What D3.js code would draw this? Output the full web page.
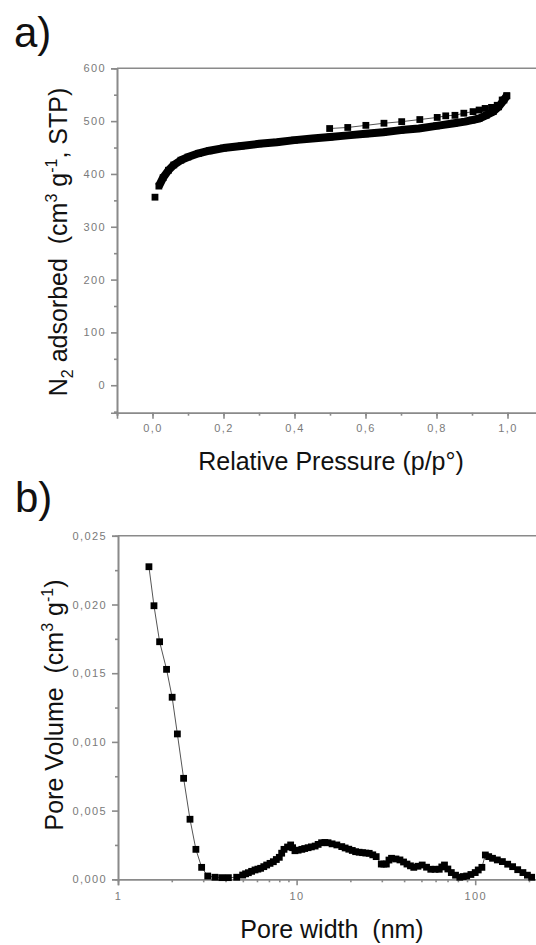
<!DOCTYPE html>
<html>
<head>
    <style>
        body {
            margin: 0;
            background: #fff;
            overflow: hidden;
            font-family: "Liberation Sans", Arial, sans-serif;
        }
        .axis path, .axis line {
            stroke: #8a8a8a;
            stroke-width: 1.6px;
        }
        .axis text {
            fill: #7a7a7a;
            font-size: 11px;
            letter-spacing: 1.4px;
            font-family: "Liberation Sans", Arial, sans-serif;
        }
        .title {
            font-size: 25px;
            fill: #111;
            white-space: pre;
        }
        .panel {
            font-size: 42px;
            fill: #111;
        }
    </style>
</head>
<body>
    <div id="chart"></div>
    <script src="https://d3js.org/d3.v7.min.js"></script>
    <script>
        // a) N2 isotherm - adsorption branch
        var adsP = [0.007, 0.018, 0.03, 0.045, 0.06, 0.08, 0.10, 0.13, 0.16, 0.20, 0.25, 0.30, 0.35, 0.40,
                    0.45, 0.50, 0.55, 0.60, 0.65, 0.70, 0.75, 0.80, 0.85, 0.88, 0.90, 0.92, 0.94, 0.96, 0.975, 0.99, 0.998];
        var adsV = [356, 377, 393, 407, 417, 426, 432, 439, 444, 449, 453, 457, 460, 464,
                    467, 470, 473, 476, 479, 483, 486, 491, 496, 499, 502, 505, 511, 518, 527, 540, 548];
        // desorption branch
        var desP = [0.499, 0.550, 0.601, 0.652, 0.702, 0.753, 0.802, 0.826, 0.852, 0.877, 0.903, 0.920, 0.937, 0.955, 0.971, 0.985, 0.998];
        var desV = [486, 488, 492, 496, 499, 503, 507, 510, 511, 515, 518, 521, 524, 526, 530, 540, 548];

        var aXTicks = [0, 0.2, 0.4, 0.6, 0.8, 1.0];
        var aYTicks = [0, 100, 200, 300, 400, 500, 600];

        // b) pore size distribution
        var poreW = [1.49, 1.59, 1.71, 1.87, 2.01, 2.15, 2.33, 2.53, 2.73, 2.94, 3.18, 3.49, 3.81, 4.15, 4.62,
                     4.99, 5.18, 5.37, 5.60, 5.85, 6.07, 6.29, 6.55, 6.80, 7.10, 7.41, 7.70, 8.00, 8.25, 8.50,
                     8.90, 9.26, 9.50, 9.79, 10.2, 10.7, 11.1, 11.6, 12.1, 12.7, 13.2, 13.8, 14.4, 15.0, 15.8,
                     16.8, 17.9, 18.7, 19.6, 20.5, 21.4, 22.4, 23.4, 24.4, 25.5, 26.7, 27.9, 29.8, 30.8, 31.8,
                     32.9, 34.0, 36.0, 37.9, 39.7, 41.5, 43.4, 45.3, 47.8, 50.5, 53.4, 56.4, 59.6, 62.9, 65.0,
                     67.3, 70.3, 73.5, 77.6, 82.0, 85.7, 89.6, 94.6, 100, 104, 109, 114, 119, 125, 133,
                     142, 152, 162, 173, 185, 196, 207];
        var poreV = [0.02275, 0.01991, 0.01729, 0.01528, 0.01325, 0.01058, 0.00735, 0.00437, 0.00218, 0.00087, 0.00024, 0.00015, 0.00012, 0.00012, 0.00015,
                     0.00031, 0.00040, 0.00048, 0.00058, 0.00068, 0.00074, 0.00080, 0.00092, 0.00104, 0.00116, 0.00128, 0.00144, 0.00160, 0.00190, 0.00218,
                     0.00235, 0.00250, 0.00230, 0.00208, 0.00212, 0.00218, 0.00224, 0.00230, 0.00236, 0.00242, 0.00254, 0.00266, 0.00268, 0.00266, 0.00258,
                     0.00250, 0.00238, 0.00228, 0.00219, 0.00210, 0.00201, 0.00197, 0.00194, 0.00191, 0.00189, 0.00178, 0.00165, 0.00111, 0.00111, 0.00111,
                     0.00140, 0.00153, 0.00148, 0.00141, 0.00126, 0.00111, 0.00098, 0.00087, 0.00095, 0.00104, 0.00088, 0.00073, 0.00073, 0.00073, 0.00090,
                     0.00104, 0.00075, 0.00049, 0.00030, 0.00015, 0.00020, 0.00024, 0.00035, 0.00049, 0.00068, 0.00087, 0.00177, 0.00165, 0.00153, 0.00141,
                     0.00129, 0.00110, 0.00092, 0.00070, 0.00049, 0.00030, 0.00015];

        var bXTicks = [1, 10, 100];
        var bYTicks = [0, 0.005, 0.010, 0.015, 0.020, 0.025];

        var loc = d3.formatLocale({decimal: ",", thousands: ".", grouping: [3], currency: ["", ""]});

        var svg = d3.select("#chart").append("svg")
            .attr("width", 536)
            .attr("height", 945);

        // ---------- panel a ----------
        var xA = d3.scaleLinear().domain([-0.1, 1.1]).range([117, 543]);
        var yA = d3.scaleLinear().domain([-52, 600]).range([412.7, 68.3]);

        var gA = svg.append("g");

        gA.append("line")
            .attr("x1", xA(-0.1)).attr("x2", xA(1.1))
            .attr("y1", yA(600)).attr("y2", yA(600))
            .attr("stroke", "#8a8a8a").attr("stroke-width", 1.6);

        gA.append("g").attr("class", "axis")
            .attr("transform", "translate(0," + yA(-52) + ")")
            .call(d3.axisBottom(xA).tickValues(d3.range(-0.1, 1.11, 0.1)).tickSize(3).tickFormat(""));
        gA.append("g").attr("class", "axis")
            .attr("transform", "translate(0," + yA(-52) + ")")
            .call(d3.axisBottom(xA).tickValues(aXTicks).tickSize(6).tickPadding(6).tickFormat(loc.format(".1f")));

        gA.append("g").attr("class", "axis")
            .attr("transform", "translate(" + xA(-0.1) + ",0)")
            .call(d3.axisLeft(yA).tickValues([-50, 50, 150, 250, 350, 450, 550]).tickSize(3).tickFormat(""));
        gA.append("g").attr("class", "axis")
            .attr("transform", "translate(" + xA(-0.1) + ",0)")
            .call(d3.axisLeft(yA).tickValues(aYTicks).tickSize(6).tickPadding(5).tickFormat(d3.format("d")));

        var ads = adsP.map(function(p, i) { return [p, adsV[i]]; });
        var des = desP.map(function(p, i) { return [p, desV[i]]; });

        var lineA = d3.line().x(function(d) { return xA(d[0]); }).y(function(d) { return yA(d[1]); });

        gA.append("path").attr("d", lineA(des))
            .attr("fill", "none").attr("stroke", "#555").attr("stroke-width", 1);
        gA.append("path").attr("d", lineA(ads.slice(1)))
            .attr("fill", "none").attr("stroke", "#000").attr("stroke-width", 8)
            .attr("stroke-linejoin", "round");

        gA.selectAll("rect.ads").data(ads).enter().append("rect")
            .attr("class", "ads")
            .attr("x", function(d) { return xA(d[0]) - 3.4; })
            .attr("y", function(d) { return yA(d[1]) - 3.4; })
            .attr("width", 6.8).attr("height", 6.8).attr("fill", "#000");
        gA.selectAll("rect.des").data(des).enter().append("rect")
            .attr("class", "des")
            .attr("x", function(d) { return xA(d[0]) - 3.4; })
            .attr("y", function(d) { return yA(d[1]) - 3.4; })
            .attr("width", 6.8).attr("height", 6.8).attr("fill", "#000");

        gA.append("text").attr("class", "panel").attr("x", 14).attr("y", 47).text("a)");

        gA.append("text").attr("class", "title")
            .attr("x", 331).attr("y", 470).attr("text-anchor", "middle")
            .attr("font-size", 26.5)
            .text("Relative Pressure (p/p°)");

        var ytA = gA.append("text").attr("class", "title")
            .attr("transform", "translate(67,242) rotate(-90)")
            .attr("text-anchor", "middle")
            .attr("font-size", 26);
        ytA.append("tspan").text("N");
        ytA.append("tspan").attr("font-size", 16).attr("dy", 6).text("2");
        ytA.append("tspan").attr("dy", -6).text(" adsorbed  (cm");
        ytA.append("tspan").attr("font-size", 16).attr("dy", -10).text("3");
        ytA.append("tspan").attr("dy", 10).text(" g");
        ytA.append("tspan").attr("font-size", 16).attr("dy", -10).text("-1");
        ytA.append("tspan").attr("dy", 10).text(", STP)");

        // ---------- panel b ----------
        var xB = d3.scaleLog().domain([1, 300]).range([118, 118 + Math.log10(300) * 178.6]);
        var yB = d3.scaleLinear().domain([0, 0.025]).range([879.3, 535.8]);

        var gB = svg.append("g");

        gB.append("line")
            .attr("x1", xB(1)).attr("x2", xB(300))
            .attr("y1", yB(0.025)).attr("y2", yB(0.025))
            .attr("stroke", "#8a8a8a").attr("stroke-width", 1.6);

        var minorB = [];
        [1, 10, 100].forEach(function(dec) {
            for (var k = 2; k <= 9; k++) { if (dec * k <= 300) minorB.push(dec * k); }
        });

        gB.append("g").attr("class", "axis")
            .attr("transform", "translate(0," + yB(0) + ")")
            .call(d3.axisBottom(xB).tickValues(minorB).tickSize(3).tickFormat(""));
        gB.append("g").attr("class", "axis")
            .attr("transform", "translate(0," + yB(0) + ")")
            .call(d3.axisBottom(xB).tickValues(bXTicks).tickSize(6).tickPadding(7).tickFormat(d3.format("d")));

        gB.append("g").attr("class", "axis")
            .attr("transform", "translate(" + xB(1) + ",0)")
            .call(d3.axisLeft(yB).tickValues([0.0025, 0.0075, 0.0125, 0.0175, 0.0225]).tickSize(3).tickFormat(""));
        gB.append("g").attr("class", "axis")
            .attr("transform", "translate(" + xB(1) + ",0)")
            .call(d3.axisLeft(yB).tickValues(bYTicks).tickSize(6).tickPadding(5).tickFormat(loc.format(".3f")));

        var pore = poreW.map(function(w, i) { return [w, poreV[i]]; });
        var lineB = d3.line().x(function(d) { return xB(d[0]); }).y(function(d) { return yB(d[1]); });

        gB.append("path").attr("d", lineB(pore))
            .attr("fill", "none").attr("stroke", "#555").attr("stroke-width", 1);
        gB.selectAll("rect.pv").data(pore).enter().append("rect")
            .attr("class", "pv")
            .attr("x", function(d) { return xB(d[0]) - 3.4; })
            .attr("y", function(d) { return yB(d[1]) - 3.4; })
            .attr("width", 6.8).attr("height", 6.8).attr("fill", "#000");

        gB.append("text").attr("class", "panel").attr("x", 15).attr("y", 512).text("b)");

        gB.append("text").attr("class", "title")
            .attr("x", 332).attr("y", 938).attr("text-anchor", "middle")
            .attr("font-size", 27)
            .text("Pore width  (nm)");

        var ytB = gB.append("text").attr("class", "title")
            .attr("transform", "translate(63,705) rotate(-90)")
            .attr("text-anchor", "middle")
            .attr("font-size", 26.5);
        ytB.append("tspan").text("Pore Volume  (cm");
        ytB.append("tspan").attr("font-size", 16).attr("dy", -10).text("3");
        ytB.append("tspan").attr("dy", 10).text(" g");
        ytB.append("tspan").attr("font-size", 16).attr("dy", -10).text("-1");
        ytB.append("tspan").attr("dy", 10).text(")");
    </script>
</body>
</html>
